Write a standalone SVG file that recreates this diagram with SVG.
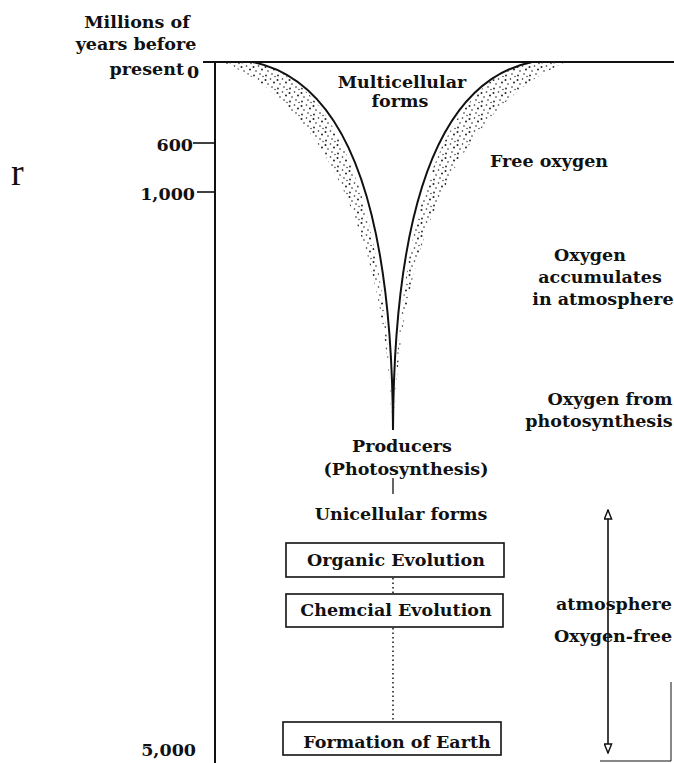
<svg xmlns="http://www.w3.org/2000/svg" width="674" height="763" viewBox="0 0 674 763">
<style>
text{font-family:"DejaVu Serif","Liberation Serif",serif;font-weight:bold;font-size:17.5px;fill:#111}
.m{text-anchor:middle}
.e{text-anchor:end}
.ln{stroke:#111;fill:none}
.box{fill:#fff;stroke:#111;stroke-width:1.6}
</style>
<defs>
<pattern id="dots" width="12" height="13" patternUnits="userSpaceOnUse">
<circle cx="1.5" cy="2" r="1" fill="#222"/>
<circle cx="6.5" cy="1" r="0.8" fill="#222"/>
<circle cx="10" cy="4.5" r="1" fill="#222"/>
<circle cx="4" cy="6" r="0.8" fill="#222"/>
<circle cx="2" cy="10.5" r="0.9" fill="#222"/>
<circle cx="8" cy="9" r="0.8" fill="#222"/>
<circle cx="11" cy="11.5" r="0.7" fill="#222"/>
</pattern>
<marker id="open" viewBox="0 0 12 10" refX="11" refY="5" markerWidth="11" markerHeight="9" markerUnits="userSpaceOnUse" orient="auto-start-reverse">
<path d="M11,5 L1,1 L1,9 Z" fill="#fff" stroke="#111" stroke-width="1.6"/>
</marker>
</defs>
<rect width="674" height="763" fill="#fff"/>

<g id="axis">
<line class="ln" x1="215" y1="62" x2="215" y2="763" stroke-width="2"/>
<line class="ln" x1="203" y1="62" x2="674" y2="62" stroke-width="2"/>
<line class="ln" x1="193" y1="143" x2="215" y2="143" stroke-width="1.6"/>
<line class="ln" x1="197" y1="192" x2="215" y2="192" stroke-width="1.6"/>
<text x="137" y="28" class="m">Millions of</text>
<text x="136" y="50" class="m">years before</text>
<text x="184" y="75" class="e">present</text>
<text x="193" y="78" class="m">0</text>
<text x="193" y="151" class="e">600</text>
<text x="195" y="200" class="e">1,000</text>
<text x="196" y="756" class="e">5,000</text>
<text x="11" y="185" style="font-family:'Liberation Serif',serif;font-weight:normal;font-size:38px">r</text>
</g>

<g id="funnel">
<path d="M222,62 C300,92 386,200 392,432 C387,210 340,80 253,62 Z" fill="url(#dots)"/>
<path d="M566,62 C486,96 400,200 394,432 C398,210 446,80 532,62 Z" fill="url(#dots)"/>
<path class="ln" stroke-width="2" d="M253,62 C340,80 392,190 393,430"/>
<path class="ln" stroke-width="2" d="M532,62 C446,80 394,190 393,430"/>
</g>

<g id="labels">
<text x="402" y="88" class="m">Multicellular</text>
<text x="400" y="107" class="m">forms</text>
<text x="549" y="167" class="m">Free oxygen</text>
<text x="590" y="261" class="m">Oxygen</text>
<text x="600" y="283" class="m">accumulates</text>
<text x="603" y="305" class="m">in atmosphere</text>
<text x="610" y="405" class="m">Oxygen from</text>
<text x="599" y="427" class="m">photosynthesis</text>
<text x="614" y="610" class="m">atmosphere</text>
<text x="613" y="642" class="m">Oxygen-free</text>
</g>

<g id="producers">
<text x="402" y="452" class="m">Producers</text>
<text x="406" y="475" class="m">(Photosynthesis)</text>
</g>
<g id="unicellular">
<text x="401" y="520" class="m">Unicellular forms</text>
</g>
<g id="organic">
<rect class="box" x="286" y="543" width="218" height="34"/>
<text x="396" y="566" class="m">Organic Evolution</text>
</g>
<g id="chemical">
<rect class="box" x="286" y="594" width="217" height="33"/>
<text x="396" y="616" class="m">Chemcial Evolution</text>
</g>
<g id="earth">
<rect class="box" x="283" y="722" width="218" height="33"/>
<text x="397" y="748" class="m">Formation of Earth</text>
</g>

<g id="connectors">
<line class="ln" x1="393" y1="478" x2="393" y2="494" stroke-width="1.3"/>
<line class="ln" x1="393" y1="578" x2="393" y2="593" stroke-width="1.5" stroke-dasharray="1.5 3"/>
<line class="ln" x1="393" y1="628" x2="393" y2="721" stroke-width="1.5" stroke-dasharray="1.5 3"/>
<line class="ln" x1="608" y1="510" x2="608" y2="753" stroke-width="1.6" marker-start="url(#open)" marker-end="url(#open)"/>
</g>

<g id="frame">
<line class="ln" x1="671" y1="682" x2="671" y2="761" stroke-width="1"/>
<line class="ln" x1="600" y1="761" x2="671" y2="761" stroke-width="1.2"/>
</g>
</svg>
